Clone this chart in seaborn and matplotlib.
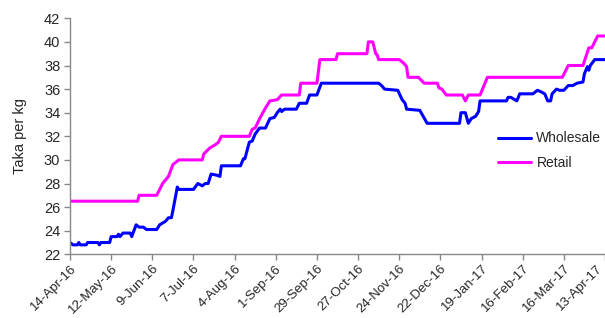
import matplotlib
matplotlib.use("Agg")
import matplotlib.pyplot as plt
import matplotlib.transforms as mtransforms
import seaborn as sns
import pandas as pd

start = pd.Timestamp("2016-04-14")

# days after 14-Apr-16 where the series changes, with the price (Taka per kg)
retail_days = [0, 46, 47, 59, 61, 63, 67, 70, 74, 90, 91, 95, 99, 101, 103, 122, 124, 126,
               129, 133, 136, 141, 144, 156, 157, 168, 170, 181, 182, 202, 203, 206, 208,
               209, 210, 224, 227, 229, 230, 237, 241, 250, 251, 253, 256, 267, 269, 271,
               279, 284, 335, 339, 349, 353, 355, 359, 364]
retail_price = [26.5, 26.5, 27.0, 27.0, 27.5, 28.0, 28.6, 29.6, 30.0, 30.0, 30.5, 31.0, 31.3,
                31.5, 32.0, 32.0, 32.6, 32.7, 33.5, 34.4, 35.0, 35.1, 35.5, 35.5, 36.5, 36.5,
                38.5, 38.5, 39.0, 39.0, 40.0, 40.0, 39.0, 38.9, 38.5, 38.5, 38.2, 37.9, 37.0,
                37.0, 36.5, 36.5, 36.1, 36.0, 35.5, 35.5, 35.0, 35.5, 35.5, 37.0, 37.0, 38.0,
                38.0, 39.5, 39.5, 40.5, 40.5]

wholesale_days = [0, 2, 5, 6, 7, 11, 12, 19, 20, 21, 27, 28, 32, 33, 34, 36, 41, 42, 45, 47,
                  50, 52, 59, 61, 65, 67, 69, 70, 73, 74, 84, 87, 90, 92, 94, 96, 100, 102,
                  103, 116, 118, 119, 122, 124, 126, 129, 133, 136, 139, 141, 143, 144, 146,
                  154, 156, 161, 163, 168, 171, 210, 212, 214, 223, 226, 228, 229, 238, 243,
                  265, 266, 269, 271, 273, 276, 278, 279, 297, 298, 300, 304, 306, 315, 318,
                  320, 323, 325, 327, 328, 331, 333, 336, 339, 342, 345, 349, 350, 352, 353,
                  354, 357, 364]
wholesale_price = [23.0, 22.8, 22.8, 23.0, 22.8, 22.8, 23.0, 23.0, 22.8, 23.0, 23.0, 23.5,
                   23.5, 23.7, 23.5, 23.8, 23.8, 23.5, 24.5, 24.3, 24.3, 24.1, 24.1, 24.5,
                   24.8, 25.1, 25.1, 25.7, 27.7, 27.5, 27.5, 28.0, 27.8, 28.0, 28.0, 28.8,
                   28.7, 28.6, 29.5, 29.5, 30.1, 30.1, 31.5, 31.6, 32.2, 32.7, 32.7, 33.5,
                   33.6, 34.0, 34.3, 34.1, 34.3, 34.3, 34.8, 34.8, 35.5, 35.5, 36.5, 36.5,
                   36.3, 36.0, 35.9, 35.1, 34.8, 34.3, 34.2, 33.1, 33.1, 34.0, 34.0, 33.1,
                   33.5, 33.7, 34.1, 35.0, 35.0, 35.3, 35.3, 35.0, 35.6, 35.6, 35.9, 35.8,
                   35.6, 35.0, 35.0, 35.6, 36.0, 35.9, 35.9, 36.3, 36.3, 36.5, 36.6, 37.3,
                   37.9, 37.6, 38.0, 38.5, 38.5]

tick_days = list(range(0, 365, 28))
tick_labels = [(start + pd.Timedelta(days=d)).strftime("%-d-%b-%y") for d in tick_days]

df = pd.concat([
    pd.DataFrame({"day": wholesale_days, "price": wholesale_price, "series": "Wholesale"}),
    pd.DataFrame({"day": retail_days, "price": retail_price, "series": "Retail"}),
])

sns.set_style("white")
plt.rcParams["font.family"] = ["Liberation Sans", "DejaVu Sans"]

fig = plt.figure(figsize=(6.05, 3.18), dpi=100)
ax = fig.add_axes([70/605, 1-254.3/318, 535/605, (254.3-18.3)/318])

sns.lineplot(data=df, x="day", y="price", hue="series",
             palette={"Wholesale": "#0000FF", "Retail": "#FF00FF"},
             linewidth=2.2, ax=ax, estimator=None, sort=True)

ax.set_xlim(0, 364)
ax.set_ylim(22, 42)
ax.set_yticks(range(22, 43, 2))
ax.set_xticks(tick_days)
ax.set_xticklabels(tick_labels, rotation=45, ha="right", rotation_mode="anchor", fontsize=9.5)
ax.tick_params(axis="y", labelsize=10.5)
ax.tick_params(axis="both", direction="out", length=4, width=1, color="#888888", pad=3,
               left=True, bottom=True)
ax.tick_params(axis="x", pad=2)
ax.set_xlabel("")
ax.set_ylabel("Taka per kg", fontsize=10.5, labelpad=12)

# nudge the last date label so it stays inside the picture
last = ax.get_xticklabels()[-1]
last.set_transform(last.get_transform() + mtransforms.ScaledTranslation(-9/100, 0, fig.dpi_scale_trans))

sns.despine(ax=ax, top=True, right=True)
for s in ["left", "bottom"]:
    ax.spines[s].set_color("#888888")
    ax.spines[s].set_linewidth(1)

leg = ax.legend(loc="upper left", bbox_to_anchor=(485/605, 1-119/318),
                bbox_transform=fig.transFigure, frameon=False, fontsize=10,
                handlelength=2.4, handletextpad=0.4, labelspacing=0.75)
for line in leg.get_lines():
    line.set_linewidth(2.2)

fig.savefig("out.png", dpi=100)
